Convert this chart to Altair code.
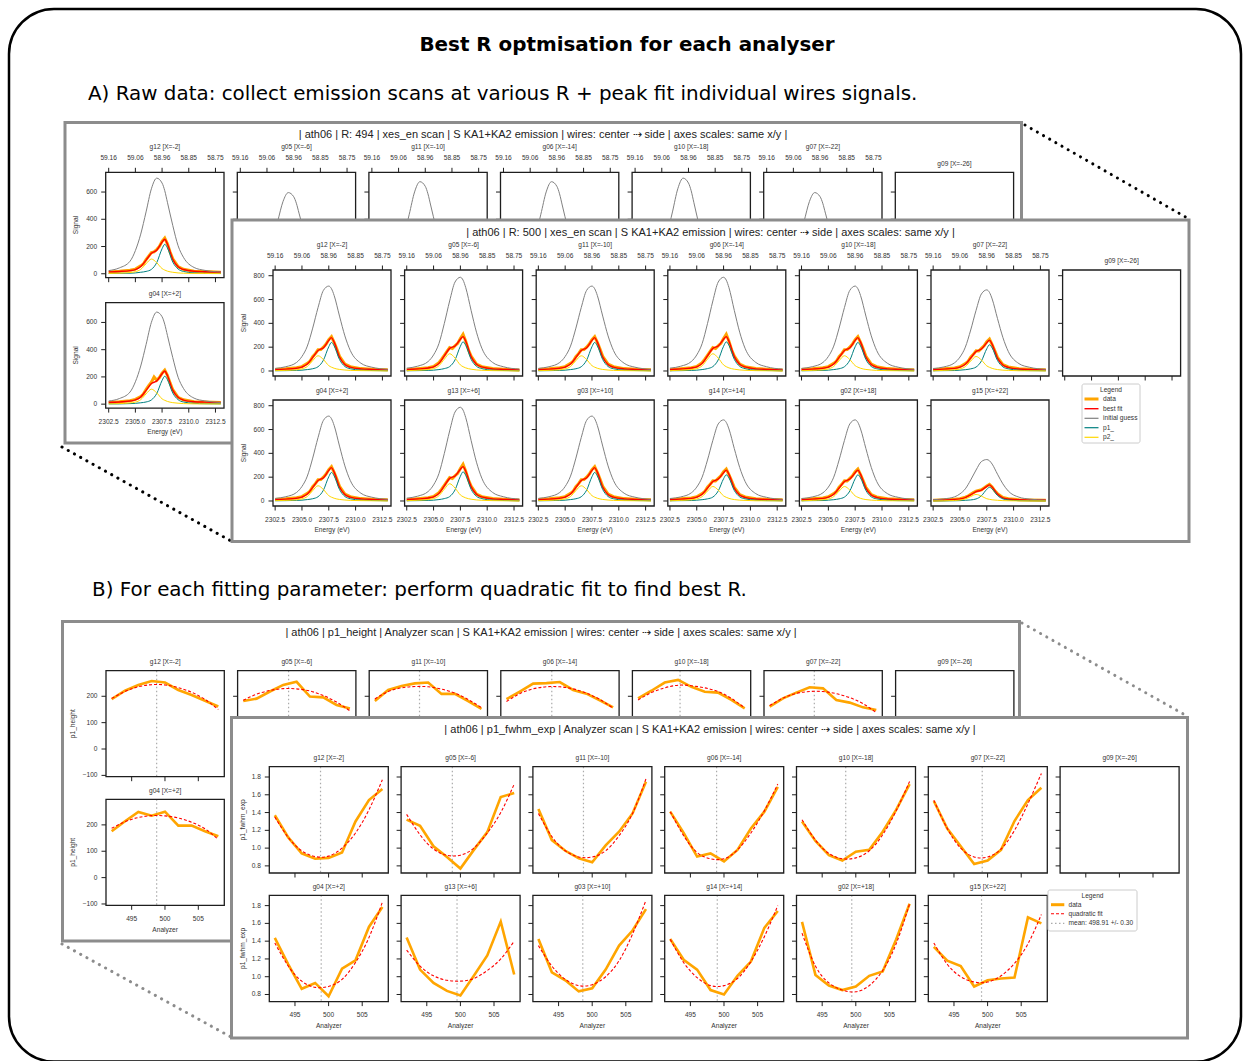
import altair as alt
import pandas as pd

# ------------------------------------------------------------------
# Section A: emission scans (signal vs energy) and their peak fits
# ------------------------------------------------------------------
ENERGY = [2302.5, 2303.5, 2304.5, 2305.0, 2305.5, 2306.0, 2306.5, 2307.0,
          2307.5, 2307.75, 2308.0, 2308.5, 2309.0, 2309.5, 2310.5, 2311.5, 2313.0]
ENERGY_DATA = [2302.5, 2303.5, 2304.5, 2305.0, 2305.5, 2305.75, 2306.0, 2306.25,
               2306.5, 2306.75, 2307.0, 2307.25, 2307.5, 2307.75, 2308.0, 2308.25,
               2308.5, 2309.0, 2309.5, 2310.5, 2311.5, 2313.0]
ENERGY_TICKS = [2302.5, 2305.0, 2307.5, 2310.0, 2312.5]
ENERGY_TICK_LABELS = ["2302.5", "2305.0", "2307.5", "2310.0", "2312.5"]
ANGLE_TICK_LABELS = ["59.16", "59.06", "58.96", "58.85", "58.75"]

# R = 500 scans
R500_GUESS_HIGH = [24, 40, 80, 135, 230, 398, 588, 747, 787, 763, 700, 509, 326, 191, 72, 36, 16]
R500_GUESS_MID = [22, 36, 72, 122, 209, 360, 533, 677, 713, 691, 634, 461, 295, 173, 65, 32, 14]
R500_GUESS_LOW = [21, 34, 69, 117, 200, 344, 509, 647, 681, 660, 605, 440, 282, 165, 62, 31, 14]
R500_GUESS_G15 = [11, 18, 35, 60, 102, 176, 260, 331, 348, 338, 310, 225, 144, 84, 32, 16, 7]

R500_P1_A = [2, 3, 5, 7, 12, 19, 36, 91, 204, 240, 211, 96, 38, 19, 7, 4, 2]
R500_P2_A = [3, 5, 10, 18, 38, 87, 128, 96, 45, 32, 23, 13, 8, 5, 3, 2, 1]
R500_FIT_A = [13, 16, 23, 33, 58, 114, 172, 195, 257, 280, 242, 117, 54, 32, 18, 14, 11]
R500_DATA_A = [12, 18, 27, 37, 64, 82, 120, 146, 178, 180, 200, 226, 264, 288, 240, 184,
               124, 58, 36, 20, 15, 10]

R500_P1_B = [2, 3, 5, 7, 12, 20, 37, 93, 208, 245, 216, 98, 39, 20, 7, 4, 2]
R500_P2_B = [3, 6, 12, 20, 44, 99, 145, 109, 51, 36, 26, 15, 9, 6, 3, 2, 1]
R500_FIT_B = [13, 17, 25, 35, 64, 127, 190, 210, 267, 289, 250, 121, 56, 34, 18, 14, 11]
R500_DATA_B = [11, 19, 28, 38, 70, 100, 132, 165, 196, 188, 212, 232, 272, 308, 250, 178,
               126, 58, 36, 21, 15, 9]

R500_P1_C = [2, 3, 4, 7, 11, 18, 33, 84, 187, 220, 194, 88, 35, 18, 7, 3, 2]
R500_P2_C = [2, 5, 10, 17, 37, 83, 122, 92, 43, 31, 22, 12, 7, 5, 2, 2, 1]
R500_FIT_C = [12, 16, 22, 32, 56, 109, 163, 184, 238, 259, 224, 108, 50, 31, 17, 13, 11]
R500_DATA_C = [11, 18, 26, 36, 62, 80, 116, 140, 170, 168, 190, 212, 246, 268, 222, 170,
               114, 54, 34, 19, 14, 10]

R500_P1_G15 = [1, 1, 2, 3, 6, 9, 17, 44, 98, 115, 101, 46, 18, 9, 3, 2, 1]
R500_P2_G15 = [1, 2, 4, 8, 17, 37, 55, 41, 19, 14, 10, 6, 3, 2, 1, 1, 1]
R500_FIT_G15 = [8, 9, 12, 17, 29, 52, 78, 91, 123, 135, 117, 58, 27, 17, 10, 9, 8]
R500_DATA_G15 = [7, 10, 14, 19, 32, 42, 56, 70, 82, 88, 94, 110, 126, 140, 118, 86, 62, 30,
                 19, 11, 9, 7]

# R = 494 scans
R494_GUESS_HIGH = [23, 43, 92, 170, 291, 454, 624, 702, 666, 610, 525, 355, 206, 121, 46, 25, 13]
R494_GUESS_MID = [23, 41, 89, 164, 280, 437, 601, 676, 642, 587, 505, 342, 198, 116, 44, 24, 12]
R494_GUESS_LOW = [20, 36, 78, 144, 247, 385, 530, 596, 566, 518, 445, 301, 175, 102, 39, 21, 11]

R494_P1_G12 = [2, 3, 4, 6, 11, 17, 32, 82, 184, 216, 190, 86, 35, 17, 6, 3, 2]
R494_P2_G12 = [2, 4, 9, 15, 32, 73, 108, 81, 38, 27, 19, 11, 6, 4, 2, 2, 1]
R494_FIT_G12 = [14, 17, 23, 31, 53, 100, 150, 173, 232, 253, 219, 107, 51, 31, 18, 15, 13]
R494_DATA_G12 = [12, 18, 26, 34, 58, 72, 104, 130, 156, 160, 178, 200, 238, 262, 220, 160,
                 110, 52, 33, 19, 16, 11]

R494_P1_G04 = [2, 2, 4, 6, 10, 16, 31, 78, 174, 205, 180, 82, 33, 16, 6, 3, 2]
R494_P2_G04 = [2, 4, 9, 15, 33, 75, 110, 83, 39, 28, 20, 11, 7, 4, 2, 2, 1]
R494_FIT_G04 = [14, 16, 23, 31, 53, 101, 151, 171, 223, 243, 210, 103, 50, 30, 18, 15, 13]
R494_DATA_G04 = [12, 17, 25, 35, 56, 74, 108, 136, 162, 200, 176, 196, 228, 250, 212, 156,
                 106, 50, 32, 18, 15, 12]

SIGNAL_TICKS_500 = [0, 200, 400, 600, 800]
SIGNAL_TICKS_494 = [0, 200, 400, 600]

# ------------------------------------------------------------------
# Section B: fitted parameters vs analyser radius
# ------------------------------------------------------------------
R_SCAN = [492, 494, 496, 498, 500, 502, 504, 506, 508]
R_TICKS = [495, 500, 505]
R_TICK_LABELS = ["495", "500", "505"]
FWHM_TICKS = [0.8, 1.0, 1.2, 1.4, 1.6, 1.8]
FWHM_TICK_LABELS = ["0.8", "1.0", "1.2", "1.4", "1.6", "1.8"]
HEIGHT_TICKS = [-100, 0, 100, 200]
HEIGHT_TICK_LABELS = ["\u2212100", "0", "100", "200"]

FWHM_G12 = [1.37, 1.12, 0.94, 0.88, 0.89, 0.95, 1.30, 1.54, 1.665]
FWHM_FIT_G12 = [1.35, 1.12, 0.97, 0.905, 0.91, 1.00, 1.17, 1.43, 1.77]
FWHM_G05 = [1.32, 1.25, 1.02, 0.90, 0.77, 0.98, 1.18, 1.575, 1.62]
FWHM_FIT_G05 = [1.38, 1.15, 0.99, 0.92, 0.92, 1.00, 1.17, 1.40, 1.72]
FWHM_G11 = [1.44, 1.09, 0.97, 0.886, 0.84, 1.03, 1.185, 1.39, 1.747]
FWHM_FIT_G11 = [1.39, 1.13, 0.97, 0.90, 0.90, 0.97, 1.14, 1.39, 1.78]
FWHM_G06 = [1.41, 1.17, 0.905, 0.94, 0.85, 0.98, 1.22, 1.41, 1.69]
FWHM_FIT_G06 = [1.41, 1.14, 0.95, 0.88, 0.88, 0.98, 1.17, 1.42, 1.72]
FWHM_G10 = [1.30, 1.08, 0.92, 0.86, 0.96, 0.98, 1.185, 1.43, 1.72]
FWHM_FIT_G10 = [1.32, 1.09, 0.94, 0.88, 0.89, 0.97, 1.15, 1.42, 1.75]
FWHM_G07 = [1.53, 1.22, 1.02, 0.82, 0.86, 0.98, 1.305, 1.54, 1.68]
FWHM_FIT_G07 = [1.54, 1.22, 1.00, 0.90, 0.90, 0.99, 1.20, 1.50, 1.84]
FWHM_G04 = [1.437, 1.14, 0.864, 0.93, 0.78, 1.09, 1.185, 1.56, 1.785]
FWHM_FIT_G04 = [1.38, 1.12, 0.95, 0.88, 0.89, 0.97, 1.16, 1.44, 1.84]
FWHM_G13 = [1.44, 1.08, 0.93, 0.84, 0.79, 1.01, 1.24, 1.62, 1.025]
FWHM_FIT_G13 = [1.30, 1.12, 1.01, 0.96, 0.95, 0.98, 1.07, 1.20, 1.40]
FWHM_G03 = [1.425, 1.05, 0.96, 0.835, 0.87, 1.08, 1.35, 1.52, 1.76]
FWHM_FIT_G03 = [1.35, 1.12, 0.97, 0.90, 0.91, 1.00, 1.18, 1.48, 1.86]
FWHM_G14 = [1.425, 1.19, 1.08, 0.85, 0.80, 1.01, 1.17, 1.55, 1.74]
FWHM_FIT_G14 = [1.42, 1.16, 0.99, 0.90, 0.90, 0.98, 1.17, 1.45, 1.80]
FWHM_G02 = [1.617, 1.02, 0.90, 0.85, 0.89, 1.01, 1.06, 1.42, 1.82]
FWHM_FIT_G02 = [1.49, 1.12, 0.93, 0.85, 0.83, 0.90, 1.07, 1.37, 1.82]
FWHM_G15 = [1.335, 1.18, 1.12, 0.89, 0.96, 0.98, 0.99, 1.667, 1.60]
FWHM_FIT_G15 = [1.38, 1.14, 1.00, 0.94, 0.94, 1.01, 1.15, 1.37, 1.70]
FWHM_BEST_R_TOP = [498.8, 498.8, 498.7, 498.9, 498.5, 499.2]
FWHM_BEST_R_BOTTOM = [498.9, 499.5, 498.6, 499.0, 499.4, 499.1]

HEIGHT_G12 = [189, 221, 243, 258, 252, 224, 205, 183, 161]
HEIGHT_FIT_G12 = [192, 218, 236, 244, 243, 233, 215, 188, 150]
HEIGHT_G05 = [182, 191, 218, 243, 255, 199, 196, 167, 154]
HEIGHT_FIT_G05 = [185, 208, 222, 229, 228, 220, 203, 178, 145]
HEIGHT_G11 = [182, 224, 239, 249, 252, 209, 209, 182, 152]
HEIGHT_FIT_G11 = [190, 218, 232, 237, 236, 227, 212, 188, 157]
HEIGHT_G06 = [189, 218, 248, 250, 254, 224, 210, 185, 158]
HEIGHT_FIT_G06 = [180, 210, 228, 236, 236, 228, 212, 188, 155]
HEIGHT_G10 = [192, 221, 252, 262, 236, 217, 214, 186, 154]
HEIGHT_FIT_G10 = [186, 214, 232, 242, 240, 232, 218, 192, 156]
HEIGHT_G07 = [161, 192, 214, 234, 230, 186, 176, 158, 148]
HEIGHT_FIT_G07 = [165, 193, 211, 218, 218, 210, 195, 172, 138]
HEIGHT_G04 = [176, 214, 249, 235, 250, 197, 197, 176, 157]
HEIGHT_FIT_G04 = [187, 212, 228, 235, 234, 226, 210, 185, 145]
HEIGHT_BEST_R_TOP = [498.75, 498.8, 498.7, 498.8, 498.3, 498.7]
HEIGHT_BEST_R_G04 = 498.75

# Analyser labels (centre -> side)
WIRES_TOP = ["g12 [X=-2]", "g05 [X=-6]", "g11 [X=-10]", "g06 [X=-14]",
             "g10 [X=-18]", "g07 [X=-22]", "g09 [X=-26]"]
WIRES_BOTTOM = ["g04 [X=+2]", "g13 [X=+6]", "g03 [X=+10]", "g14 [X=+14]",
                "g02 [X=+18]", "g15 [X=+22]"]

LEGEND_A = ["data", "best fit", "initial guess", "p1_", "p2_"]
LEGEND_B = ["data", "quadratic fit", "mean: 498.91 +/- 0.30"]

TITLE = "Best R optmisation for each analyser"
STEP_A = "A) Raw data: collect emission scans at various R + peak fit individual wires signals."
STEP_B = "B) For each fitting parameter: perform quadratic fit to find best R."
TAIL = " | S KA1+KA2 emission | wires: center \u21e2 side | axes scales: same x/y |"
HEAD_A_BACK = "| ath06 | R: 494 | xes_en scan" + TAIL
HEAD_A_FRONT = "| ath06 | R: 500 | xes_en scan" + TAIL
HEAD_B_BACK = "| ath06 | p1_height | Analyzer scan" + TAIL
HEAD_B_FRONT = "| ath06 | p1_fwhm_exp | Analyzer scan" + TAIL

# ------------------------------------------------------------------
# styles
# ------------------------------------------------------------------
W, H = 1244, 1061
C_DATA, C_FIT, C_GUESS = "#FFA500", "#FF0000", "#808080"
C_P1, C_P2, C_MEAN = "#008080", "#FFD700", "#AAAAAA"
FRAME, TXT, WIN = "#1e1e1e", "#333333", "#8c8c8c"
SANS, BIG = "Liberation Sans", "DejaVu Sans"
SMALL, TICK, LEG = 6.6, 4.5, 6.6

ONE = pd.DataFrame({"k": [0]})


def fixed_rect(l, t, r, b, **style):
    return alt.Chart(ONE).mark_rect(**style).encode(
        x=alt.value(l), x2=alt.value(r), y=alt.value(t), y2=alt.value(b))


def fixed_text(x, y, s, **style):
    base = dict(font=SANS, fontSize=SMALL, color=TXT, align="center", baseline="middle")
    base.update(style)
    return alt.Chart(ONE).mark_text(text=s, **base).encode(x=alt.value(x), y=alt.value(y))


def fixed_segment(x0, y0, x1, y1, **style):
    return alt.Chart(ONE).mark_rule(**style).encode(
        x=alt.value(x0), y=alt.value(y0), x2=alt.value(x1), y2=alt.value(y1))


def panel(left, top, w, h, xdom, ydom, xticks, yticks, title, title_y,
          curves=(), xlabels=None, xtitle=None, top_labels=None,
          ylabels=None, ytitle=None, ytitle_gap=29, best_r=None):
    right, bottom = left + w, top + h
    xs = alt.Scale(domain=list(xdom), range=[left, right], nice=False, zero=False)
    ys = alt.Scale(domain=list(ydom), range=[bottom, top], nice=False, zero=False)

    def X(f):
        return alt.X(f, type="quantitative", scale=xs, axis=None)

    def Y(f):
        return alt.Y(f, type="quantitative", scale=ys, axis=None)

    parts = []
    if best_r is not None:
        parts.append(alt.Chart(pd.DataFrame({"m": [best_r]})).mark_rule(
            color=C_MEAN, strokeWidth=1.2, strokeDash=[1.5, 2.5]).encode(
            x=X("m"), y=alt.value(top), y2=alt.value(bottom)))
    for xv, yv, color, width, dash, interp in curves:
        style = dict(color=color, strokeWidth=width, interpolate=interp)
        if dash:
            style["strokeDash"] = dash
        parts.append(alt.Chart(pd.DataFrame({"x": xv, "y": yv})).mark_line(**style)
                     .encode(x=X("x"), y=Y("y")))
    parts.append(fixed_rect(left, top, right, bottom, filled=False, stroke=FRAME,
                            strokeWidth=1.3))
    xt = pd.DataFrame({"t": xticks, "lab": xlabels or [""] * len(xticks),
                       "top": top_labels or [""] * len(xticks)})
    yt = pd.DataFrame({"t": yticks, "lab": ylabels or [""] * len(yticks)})
    parts.append(alt.Chart(xt).mark_rule(color=FRAME, strokeWidth=1).encode(
        x=X("t"), y=alt.value(bottom), y2=alt.value(bottom + TICK)))
    parts.append(alt.Chart(yt).mark_rule(color=FRAME, strokeWidth=1).encode(
        y=Y("t"), x=alt.value(left - TICK), x2=alt.value(left)))
    label_style = dict(font=SANS, fontSize=SMALL, color=TXT, baseline="middle")
    if top_labels:
        parts.append(alt.Chart(xt).mark_rule(color=FRAME, strokeWidth=1).encode(
            x=X("t"), y=alt.value(top - TICK), y2=alt.value(top)))
        parts.append(alt.Chart(xt).mark_text(align="center", **label_style).encode(
            x=X("t"), y=alt.value(top - 14), text="top:N"))
    if xlabels:
        parts.append(alt.Chart(xt).mark_text(align="center", **label_style).encode(
            x=X("t"), y=alt.value(bottom + 13.5), text="lab:N"))
    if ylabels:
        parts.append(alt.Chart(yt).mark_text(align="right", **label_style).encode(
            y=Y("t"), x=alt.value(left - 8.5), text="lab:N"))
    if xtitle:
        parts.append(fixed_text(left + w / 2, bottom + 24.3, xtitle))
    if ytitle:
        parts.append(fixed_text(left - ytitle_gap, top + h / 2, ytitle, angle=270))
    parts.append(fixed_text(left + w / 2, title_y, title))
    return alt.layer(*parts)


def scan_curves(data, fit, guess, p1, p2):
    out = []
    if data is not None:
        out.append((ENERGY_DATA, data, C_DATA, 3.0, None, "linear"))
        out.append((ENERGY, fit, C_FIT, 1.4, None, "monotone"))
    out.append((ENERGY, guess, C_GUESS, 1.0, None, "monotone"))
    if p1 is not None:
        out.append((ENERGY, p1, C_P1, 1.0, None, "monotone"))
        out.append((ENERGY, p2, C_P2, 1.0, None, "monotone"))
    return out


def scan_window(left0, step, w, h, tops, xdom, ydom, yticks, head, head_xy, frame_box,
                rows, ytitle_gap):
    l, t, r, b = frame_box
    out = [fixed_rect(l, t, r, b, fill="white", stroke=WIN, strokeWidth=3),
           fixed_text(head_xy[0], head_xy[1], head, fontSize=11, color="#222222")]
    for ri, row in enumerate(rows):
        top = tops[ri]
        for ci, (name, curves) in enumerate(row):
            left = left0 + ci * step
            has_curves = curves is not None
            first_row = ri == 0
            last_row = ri == len(rows) - 1
            out.append(panel(
                left, top, w, h, xdom, ydom, ENERGY_TICKS, yticks, name,
                top - (25 if (first_row and has_curves) else 8.7),
                curves=curves or (),
                xlabels=ENERGY_TICK_LABELS if last_row else None,
                xtitle="Energy (eV)" if last_row else None,
                top_labels=ANGLE_TICK_LABELS if (first_row and has_curves) else None,
                ylabels=[str(v) for v in yticks] if ci == 0 else None,
                ytitle="Signal" if ci == 0 else None, ytitle_gap=ytitle_gap))
    return out


def param_window(left0, step, w, h, tops, xdom, ydom, yticks, ylabels, ytitle, head,
                 head_xy, frame_box, rows, ytitle_gap):
    l, t, r, b = frame_box
    out = [fixed_rect(l, t, r, b, fill="white", stroke=WIN, strokeWidth=3),
           fixed_text(head_xy[0], head_xy[1], head, fontSize=11, color="#222222")]
    for ri, row in enumerate(rows):
        top = tops[ri]
        for ci, (name, data, fit, best) in enumerate(row):
            left = left0 + ci * step
            last_row = ri == len(rows) - 1
            curves = ()
            if data is not None:
                curves = [(R_SCAN, data, C_DATA, 2.6, None, "linear"),
                          (R_SCAN, fit, C_FIT, 1.1, [3, 2], "natural")]
            out.append(panel(
                left, top, w, h, xdom, ydom, R_TICKS, yticks, name, top - 8.8,
                curves=curves,
                xlabels=R_TICK_LABELS if last_row else None,
                xtitle="Analyzer" if last_row else None,
                ylabels=ylabels if ci == 0 else None,
                ytitle=ytitle if ci == 0 else None, ytitle_gap=ytitle_gap,
                best_r=best))
    return out


def legend(box, title_y, entries, sample_x, text_x):
    l, t, r, b = box
    out = [fixed_rect(l, t, r, b, fill="white", stroke="#cccccc", strokeWidth=1,
                      cornerRadius=2),
           fixed_text((l + r) / 2, title_y, "Legend", fontSize=LEG)]
    for label, y, color, width, dash in entries:
        style = dict(color=color, strokeWidth=width)
        if dash:
            style["strokeDash"] = dash
        out.append(fixed_segment(sample_x[0], y, sample_x[1], y, **style))
        out.append(fixed_text(text_x, y, label, fontSize=LEG, align="left"))
    return out


# ------------------------------------------------------------------
# section A windows
# ------------------------------------------------------------------
a_back_rows = [
    [(WIRES_TOP[0], scan_curves(R494_DATA_G12, R494_FIT_G12, R494_GUESS_HIGH,
                                R494_P1_G12, R494_P2_G12)),
     (WIRES_TOP[1], scan_curves(None, None, R494_GUESS_LOW, None, None)),
     (WIRES_TOP[2], scan_curves(None, None, R494_GUESS_MID, None, None)),
     (WIRES_TOP[3], scan_curves(None, None, R494_GUESS_MID, None, None)),
     (WIRES_TOP[4], scan_curves(None, None, R494_GUESS_HIGH, None, None)),
     (WIRES_TOP[5], scan_curves(None, None, R494_GUESS_LOW, None, None)),
     (WIRES_TOP[6], None)],
    [(WIRES_BOTTOM[0], scan_curves(R494_DATA_G04, R494_FIT_G04, R494_GUESS_MID,
                                   R494_P1_G04, R494_P2_G04))],
]

set_a = scan_curves(R500_DATA_A, R500_FIT_A, R500_GUESS_MID, R500_P1_A, R500_P2_A)
set_b = scan_curves(R500_DATA_B, R500_FIT_B, R500_GUESS_HIGH, R500_P1_B, R500_P2_B)
set_c = scan_curves(R500_DATA_C, R500_FIT_C, R500_GUESS_LOW, R500_P1_C, R500_P2_C)
set_g15 = scan_curves(R500_DATA_G15, R500_FIT_G15, R500_GUESS_G15, R500_P1_G15, R500_P2_G15)
a_front_rows = [
    [(WIRES_TOP[0], set_a), (WIRES_TOP[1], set_b), (WIRES_TOP[2], set_a),
     (WIRES_TOP[3], set_b), (WIRES_TOP[4], set_a), (WIRES_TOP[5], set_c),
     (WIRES_TOP[6], None)],
    [(WIRES_BOTTOM[0], set_a), (WIRES_BOTTOM[1], set_b), (WIRES_BOTTOM[2], set_a),
     (WIRES_BOTTOM[3], set_c), (WIRES_BOTTOM[4], set_c), (WIRES_BOTTOM[5], set_g15)],
]

# ------------------------------------------------------------------
# section B windows
# ------------------------------------------------------------------
height_rows = [
    [(WIRES_TOP[0], HEIGHT_G12, HEIGHT_FIT_G12, HEIGHT_BEST_R_TOP[0]),
     (WIRES_TOP[1], HEIGHT_G05, HEIGHT_FIT_G05, HEIGHT_BEST_R_TOP[1]),
     (WIRES_TOP[2], HEIGHT_G11, HEIGHT_FIT_G11, HEIGHT_BEST_R_TOP[2]),
     (WIRES_TOP[3], HEIGHT_G06, HEIGHT_FIT_G06, HEIGHT_BEST_R_TOP[3]),
     (WIRES_TOP[4], HEIGHT_G10, HEIGHT_FIT_G10, HEIGHT_BEST_R_TOP[4]),
     (WIRES_TOP[5], HEIGHT_G07, HEIGHT_FIT_G07, HEIGHT_BEST_R_TOP[5]),
     (WIRES_TOP[6], None, None, None)],
    [(WIRES_BOTTOM[0], HEIGHT_G04, HEIGHT_FIT_G04, HEIGHT_BEST_R_G04)],
]
fwhm_rows = [
    [(WIRES_TOP[0], FWHM_G12, FWHM_FIT_G12, FWHM_BEST_R_TOP[0]),
     (WIRES_TOP[1], FWHM_G05, FWHM_FIT_G05, FWHM_BEST_R_TOP[1]),
     (WIRES_TOP[2], FWHM_G11, FWHM_FIT_G11, FWHM_BEST_R_TOP[2]),
     (WIRES_TOP[3], FWHM_G06, FWHM_FIT_G06, FWHM_BEST_R_TOP[3]),
     (WIRES_TOP[4], FWHM_G10, FWHM_FIT_G10, FWHM_BEST_R_TOP[4]),
     (WIRES_TOP[5], FWHM_G07, FWHM_FIT_G07, FWHM_BEST_R_TOP[5]),
     (WIRES_TOP[6], None, None, None)],
    [(WIRES_BOTTOM[0], FWHM_G04, FWHM_FIT_G04, FWHM_BEST_R_BOTTOM[0]),
     (WIRES_BOTTOM[1], FWHM_G13, FWHM_FIT_G13, FWHM_BEST_R_BOTTOM[1]),
     (WIRES_BOTTOM[2], FWHM_G03, FWHM_FIT_G03, FWHM_BEST_R_BOTTOM[2]),
     (WIRES_BOTTOM[3], FWHM_G14, FWHM_FIT_G14, FWHM_BEST_R_BOTTOM[3]),
     (WIRES_BOTTOM[4], FWHM_G02, FWHM_FIT_G02, FWHM_BEST_R_BOTTOM[4]),
     (WIRES_BOTTOM[5], FWHM_G15, FWHM_FIT_G15, FWHM_BEST_R_BOTTOM[5])],
]

layers = [
    fixed_rect(9, 9, 1241, 1061.5, filled=False, stroke="black", strokeWidth=2.5,
               cornerRadius=45),
    fixed_text(627, 45, TITLE, font=BIG, fontSize=19.9, fontWeight="bold", color="black"),
    fixed_text(88, 94, STEP_A, font=BIG, fontSize=19.9, align="left", color="black"),
    fixed_text(92, 590, STEP_B, font=BIG, fontSize=19.9, align="left", color="black"),
    fixed_segment(1025, 125, 1189, 219, color="black", strokeWidth=3,
                  strokeDash=[0.1, 7], strokeCap="round"),
    fixed_segment(62, 447, 231, 541, color="black", strokeWidth=3,
                  strokeDash=[0.1, 7], strokeCap="round"),
    fixed_segment(1022, 623, 1187, 716, color="#8c8c8c", strokeWidth=3,
                  strokeDash=[0.1, 7], strokeCap="round"),
    fixed_segment(62, 944, 231, 1037, color="#8c8c8c", strokeWidth=3,
                  strokeDash=[0.1, 7], strokeCap="round"),
]

layers += scan_window(105.7, 131.6, 118.3, 105.4, [172.3, 302.7],
                      (2302.22, 2313.3), (-29, 745), SIGNAL_TICKS_494,
                      HEAD_A_BACK, (543, 135), (65, 122.5, 1021.5, 443),
                      a_back_rows, 29.5)
layers += scan_window(273, 131.6, 118, 106, [270, 400],
                      (2302.3, 2313.3), (-42, 848), SIGNAL_TICKS_500,
                      HEAD_A_FRONT, (710.5, 233.3), (232, 220, 1189, 541.5),
                      a_front_rows, 29)
layers += legend((1082, 384, 1140, 443), 389.5,
                 [(LEGEND_A[0], 399, C_DATA, 3, None),
                  (LEGEND_A[1], 408.7, C_FIT, 1.4, None),
                  (LEGEND_A[2], 418.3, C_GUESS, 1.2, None),
                  (LEGEND_A[3], 427.7, C_P1, 1.2, None),
                  (LEGEND_A[4], 437.3, C_P2, 1.2, None)],
                 (1084.5, 1098.5), 1103)

layers += param_window(106, 131.6, 118.3, 106, [670.7, 799.3],
                       (491.15, 508.9), (-105, 297), HEIGHT_TICKS, HEIGHT_TICK_LABELS,
                       "p1_height", HEAD_B_BACK, (541, 633.3),
                       (62.5, 621.5, 1019.5, 941), height_rows, 32.7)
layers += param_window(269.3, 131.8, 119, 106.3, [766.7, 895.3],
                       (491.18, 508.88), (0.72, 1.916), FWHM_TICKS, FWHM_TICK_LABELS,
                       "p1_fwhm_exp", HEAD_B_FRONT, (710, 730),
                       (231.5, 717.5, 1187.5, 1038), fwhm_rows, 26.6)
layers += legend((1048, 890, 1137, 931), 896,
                 [(LEGEND_B[0], 904.7, C_DATA, 3, None),
                  (LEGEND_B[1], 913.7, C_FIT, 1.1, [3, 2]),
                  (LEGEND_B[2], 923.3, C_MEAN, 1.2, [1.5, 2.5])],
                 (1051, 1064.3), 1068.5)

chart = (
    alt.layer(*layers)
    .resolve_scale(x="independent", y="independent")
    .properties(width=W, height=H, padding=0,
                autosize=alt.AutoSizeParams(type="none"), background="white")
    .configure_view(strokeWidth=0)
)

chart.save("out.html", embed_options={"renderer": "svg", "actions": False})
